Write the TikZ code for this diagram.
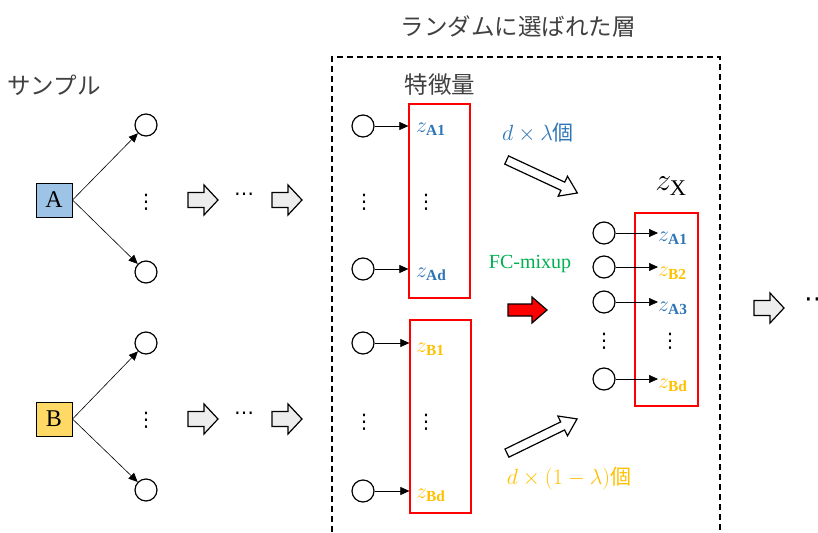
\RequirePackage{fix-cm}
\documentclass[tikz,border=0pt]{standalone}
\usepackage{fontspec}
\setmainfont{Liberation Serif}
\newfontfamily\jp{Noto Sans CJK JP}
\newfontfamily\sym{DejaVu Sans}
\usetikzlibrary{arrows.meta}
\definecolor{txtgray}{HTML}{404040}
\definecolor{zblue}{HTML}{2E75B6}
\definecolor{zgold}{HTML}{FFC000}
\definecolor{fcgreen}{HTML}{00B050}
\definecolor{boxblue}{HTML}{9DC3E6}
\definecolor{boxgold}{HTML}{FFD966}
\definecolor{arrgray}{HTML}{EDEDED}
\tikzset{
  samp/.style={draw,line width=1pt,minimum width=36,minimum height=34,inner sep=0,font=\fontsize{24}{26}\selectfont},
  unit/.style={circle,draw,line width=1.2pt,minimum size=22,inner sep=0},
  featbox/.style={draw=red,line width=1.2pt,inner sep=0},
  lab/.style={anchor=west,inner sep=0,font=\fontsize{22}{24}\selectfont},
  jptxt/.style={text=txtgray,font=\jp\fontsize{23.5}{26}\selectfont},
  dots/.style={inner sep=0,font=\sym\fontsize{20}{22}\selectfont},
  arr/.style={-{Triangle[length=9pt,width=8pt]},line width=0.6pt},
  grayarr/.pic={\path[pic actions] (-15,-7.5) -- (1,-7.5) -- (1,-15) -- (15,0) -- (1,15) -- (1,7.5) -- (-15,7.5) -- cycle;},
  redarr/.pic={\path[pic actions] (-19.5,-6) -- (4.5,-6) -- (4.5,-13) -- (19.5,0) -- (4.5,13) -- (4.5,6) -- (-19.5,6) -- cycle;},
  slimarr/.pic={\path[pic actions] (-39,-4.5) -- (23,-4.5) -- (23,-11) -- (39,0) -- (23,11) -- (23,4.5) -- (-39,4.5) -- cycle;}
}
\begin{document}
\begin{tikzpicture}[x=1pt,y=-1pt]
\useasboundingbox (0,0) rectangle (818,532);
% samples
\node[jptxt] (samptitle) at (54,85) {サンプル};
\node[samp,fill=boxblue] (sa) at (54,200) {A};
\node[samp,fill=boxgold] (sb) at (54,419) {B};
\node[unit] (sa1) at (146,125) {};
\node[unit] (sad) at (146,272) {};
\node[unit] (sb1) at (146,343) {};
\node[unit] (sbd) at (146,490) {};
\node[dots] (sadots) at (146,202) {⋮};
\node[dots] (sbdots) at (146,420) {⋮};
\draw[arr] (sa.east) -- (sa1);
\draw[arr] (sa.east) -- (sad);
\draw[arr] (sb.east) -- (sb1);
\draw[arr] (sb.east) -- (sbd);
% layers before
\pic[draw,line width=1.2pt,fill=arrgray] at (203,200) {grayarr};
\pic[draw,line width=1.2pt,fill=arrgray] at (287,200) {grayarr};
\pic[draw,line width=1.2pt,fill=arrgray] at (203,419) {grayarr};
\pic[draw,line width=1.2pt,fill=arrgray] at (287,419) {grayarr};
\node[dots] (hda) at (244,197) {⋯};
\node[dots] (hdb) at (244,416) {⋯};
% selected layer
\node[jptxt] (laytitle) at (518,27) {ランダムに選ばれた層};
\draw[line width=1.2pt,dash pattern=on 6pt off 4pt] (332,532) -- (332,57) -- (720,57) -- (720,532);
\node[jptxt] (feattitle) at (440,85) {特徴量};
\node[featbox,minimum width=61,minimum height=194] (fa) at (439.5,201) {};
\node[featbox,minimum width=61,minimum height=193] (fb) at (440.5,416.5) {};
\node[unit] (ca1) at (363,126) {};
\node[unit] (cad) at (363,269) {};
\node[unit] (cb1) at (363,343) {};
\node[unit] (cbd) at (363,491) {};
\node[dots] (cadots) at (364,202) {⋮};
\node[dots] (cbdots) at (364,422) {⋮};
\node[dots] (fadots) at (426,202) {⋮};
\node[dots] (fbdots) at (426,422) {⋮};
\node[lab,text=zblue] (za1) at (416,129) {$z_{\mathbf{A1}}$};
\node[lab,text=zblue] (zad) at (416,274) {$z_{\mathbf{Ad}}$};
\node[lab,text=zgold] (zb1) at (416,349) {$z_{\mathbf{B1}}$};
\node[lab,text=zgold] (zbd) at (416,495) {$z_{\mathbf{Bd}}$};
\draw[arr] (ca1) -- (ca1 -| fa.west);
\draw[arr] (cad) -- (cad -| fa.west);
\draw[arr] (cb1) -- (cb1 -| fb.west);
\draw[arr] (cbd) -- (cbd -| fb.west);
% mixup
\node[text=zblue,font=\fontsize{22}{24}\selectfont] (cnta) at (538,133) {$d\times\lambda${\jp\fontsize{21}{24}\selectfont 個}};
\node[text=zgold,font=\fontsize{22}{24}\selectfont] (cntb) at (569,478) {$d\times(1-\lambda)${\jp\fontsize{21}{24}\selectfont 個}};
\node[text=fcgreen,font=\fontsize{20}{22}\selectfont] (fc) at (530,264) {FC-mixup};
\pic[draw,line width=1.2pt,fill=white,rotate=-25] at (542,176.5) {slimarr};
\pic[draw,line width=1.2pt,fill=white,rotate=26] at (542,436) {slimarr};
\pic[draw,line width=1.2pt,fill=red] at (527.5,310) {redarr};
\node[font=\fontsize{32}{34}\selectfont] (zx) at (671,186) {$z_{\mathrm{X}}$};
\node[featbox,minimum width=63,minimum height=193] (fx) at (666.5,309.5) {};
\node[unit] (r1) at (604,233) {};
\node[unit] (r2) at (604,267) {};
\node[unit] (r3) at (604,302) {};
\node[unit] (rd) at (604,379) {};
\node[dots] (rdots) at (604,341) {⋮};
\node[dots] (xdots) at (670,341) {⋮};
\node[lab,text=zblue] (x1) at (658,238) {$z_{\mathbf{A1}}$};
\node[lab,text=zgold] (x2) at (658,273) {$z_{\mathbf{B2}}$};
\node[lab,text=zblue] (x3) at (658,308) {$z_{\mathbf{A3}}$};
\node[lab,text=zgold] (xd) at (658,385) {$z_{\mathbf{Bd}}$};
\draw[arr] (r1) -- (r1 -| x1.west);
\draw[arr] (r2) -- (r2 -| x2.west);
\draw[arr] (r3) -- (r3 -| x3.west);
\draw[arr] (rd) -- (rd -| xd.west);
% next layers
\pic[draw,line width=1.2pt,fill=arrgray] at (769,308) {grayarr};
\node[dots,font=\sym\fontsize{26}{28}\selectfont] (hdc) at (817,303) {⋯};
\end{tikzpicture}
\end{document}
